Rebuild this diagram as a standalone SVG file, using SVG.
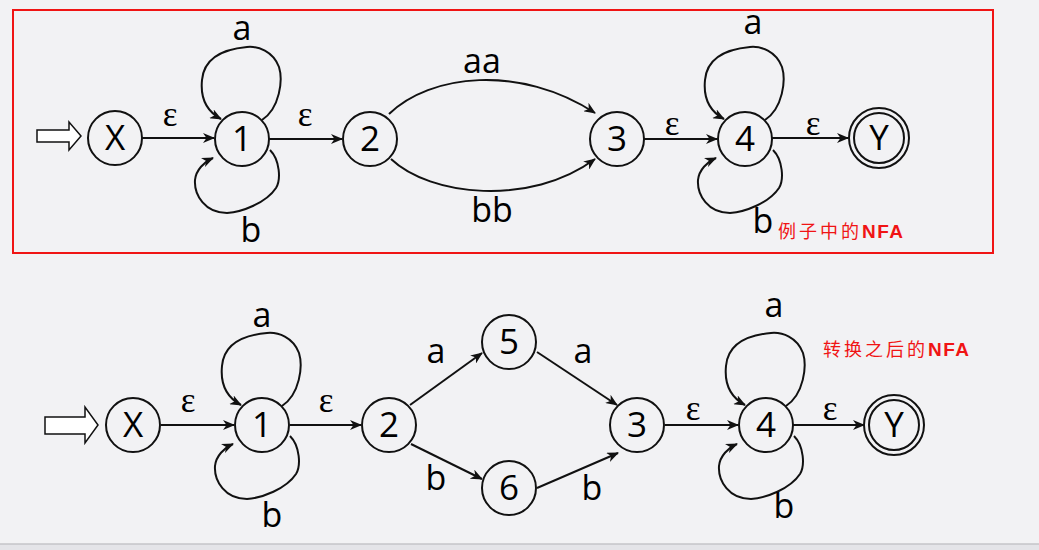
<svg xmlns="http://www.w3.org/2000/svg" width="1039" height="550" viewBox="0 0 1039 550">
<style>
.bg{fill:#f2f2f4}
.st{fill:#f2f2f4;stroke:#111;stroke-width:2}
.ed{fill:none;stroke:#111;stroke-width:2}
.lb{font-family:"Open Sans","Noto Sans",sans-serif;font-size:34px;fill:#000;text-anchor:middle}
.nl{font-family:"Open Sans","Noto Sans",sans-serif;font-size:35px;fill:#000;text-anchor:middle}
.ep{font-family:"Liberation Serif","DejaVu Serif",serif;font-size:35px;fill:#000;text-anchor:middle}
.rd{font-family:"Noto Sans CJK SC",sans-serif;font-size:18px;fill:#f01414;letter-spacing:3px}
.rb{font-family:"Liberation Sans",sans-serif;font-weight:bold;font-size:19px;letter-spacing:1.5px}
</style>
<defs>
<marker id="ar" viewBox="0 0 12 10" refX="11" refY="5" markerWidth="12" markerHeight="10" markerUnits="userSpaceOnUse" orient="auto">
<path d="M0,0 L12,5 L0,10 L3.5,5 z" fill="#111"/>
</marker>
<path id="loopT" d="M20,-19 C38,-31 41,-59 37,-72 C31,-88 16,-93 5,-92 C-17,-90 -38,-82 -40,-59 C-42,-39 -34,-27 -21,-20"/>
<path id="loopB" d="M28,11 C38,21 39,41 34,49 C24,64 0,73 -15,74 C-37,74 -48,56 -47,41 C-46,31 -38,23 -29,19"/>
</defs>
<rect class="bg" x="0" y="0" width="1039" height="550"/>
<rect x="0" y="544" width="1039" height="6" fill="#e4e4e8"/>
<line x1="0" y1="544" x2="1039" y2="544" stroke="#c4c4c8" stroke-width="1.5"/>
<rect x="13" y="10" width="980" height="243" fill="none" stroke="#f01414" stroke-width="2"/>

<g id="connectors">
<polygon points="37,130 69,130 69,122 81,136 69,150 69,142 37,142" fill="#fff" stroke="#111" stroke-width="1.5"/>
<line class="ed" x1="142" y1="138" x2="214" y2="138" marker-end="url(#ar)"/>
<line class="ed" x1="269" y1="139" x2="342" y2="139" marker-end="url(#ar)"/>
<use href="#loopT" class="ed" transform="translate(242,139)" marker-end="url(#ar)"/>
<use href="#loopB" class="ed" transform="translate(242,139)" marker-end="url(#ar)"/>
<path class="ed" d="M389,114 C430,74 520,64 595,113" marker-end="url(#ar)"/>
<path class="ed" d="M391,159 C430,196 530,207 595,159" marker-end="url(#ar)"/>
<line class="ed" x1="644" y1="139" x2="717" y2="139" marker-end="url(#ar)"/>
<use href="#loopT" class="ed" transform="translate(745,139)" marker-end="url(#ar)"/>
<use href="#loopB" class="ed" transform="translate(745,139)" marker-end="url(#ar)"/>
<line class="ed" x1="772" y1="138" x2="848" y2="138" marker-end="url(#ar)"/>
<polygon points="45,417 85,417 85,407 98,425 85,443 85,434 45,434" fill="#fff" stroke="#111" stroke-width="1.5"/>
<line class="ed" x1="161" y1="425" x2="234" y2="425" marker-end="url(#ar)"/>
<line class="ed" x1="290" y1="425" x2="361" y2="425" marker-end="url(#ar)"/>
<use href="#loopT" class="ed" transform="translate(262,425)" marker-end="url(#ar)"/>
<use href="#loopB" class="ed" transform="translate(262,425)" marker-end="url(#ar)"/>
<line class="ed" x1="410" y1="405" x2="482" y2="353" marker-end="url(#ar)"/>
<line class="ed" x1="411" y1="444" x2="482" y2="479" marker-end="url(#ar)"/>
<line class="ed" x1="537" y1="352" x2="617" y2="405" marker-end="url(#ar)"/>
<line class="ed" x1="537" y1="488" x2="618" y2="453" marker-end="url(#ar)"/>
<line class="ed" x1="665" y1="425" x2="738" y2="425" marker-end="url(#ar)"/>
<use href="#loopT" class="ed" transform="translate(766,425)" marker-end="url(#ar)"/>
<use href="#loopB" class="ed" transform="translate(766,425)" marker-end="url(#ar)"/>
<line class="ed" x1="793" y1="425" x2="864" y2="425" marker-end="url(#ar)"/>

<text class="ep" x="170" y="126">ε</text>
<text class="ep" x="305" y="126">ε</text>
<text class="lb" x="242" y="40">a</text>
<text class="lb" x="251" y="242">b</text>
<text class="lb" x="482" y="73">aa</text>
<text class="lb" x="492" y="222">bb</text>
<text class="ep" x="672" y="135">ε</text>
<text class="ep" x="813" y="135">ε</text>
<text class="lb" x="753" y="34">a</text>
<text class="lb" x="763" y="233">b</text>

<text class="ep" x="188" y="412">ε</text>
<text class="ep" x="326" y="412">ε</text>
<text class="lb" x="262" y="327">a</text>
<text class="lb" x="272" y="527">b</text>
<text class="lb" x="436" y="363">a</text>
<text class="lb" x="436" y="490">b</text>
<text class="lb" x="583" y="363">a</text>
<text class="lb" x="592" y="500">b</text>
<text class="ep" x="693" y="420">ε</text>
<text class="ep" x="830" y="420">ε</text>
<text class="lb" x="774" y="317">a</text>
<text class="lb" x="784" y="518">b</text>
</g>

<g id="n-top-X"><circle class="st" cx="115" cy="138" r="27"/><text class="nl" x="115" y="150">X</text></g>
<g id="n-top-1"><circle class="st" cx="242" cy="139" r="27"/><text class="nl" x="242" y="151">1</text></g>
<g id="n-top-2"><circle class="st" cx="370" cy="139" r="27"/><text class="nl" x="370" y="151">2</text></g>
<g id="n-top-3"><circle class="st" cx="617" cy="139" r="27"/><text class="nl" x="617" y="151">3</text></g>
<g id="n-top-4"><circle class="st" cx="745" cy="139" r="27"/><text class="nl" x="745" y="151">4</text></g>
<g id="n-top-Y"><circle class="st" cx="879" cy="138" r="30"/><circle class="st" cx="879" cy="138" r="25"/><text class="nl" x="879" y="150">Y</text></g>

<g id="n-bot-X"><circle class="st" cx="133" cy="425" r="27"/><text class="nl" x="133" y="437">X</text></g>
<g id="n-bot-1"><circle class="st" cx="262" cy="425" r="27"/><text class="nl" x="262" y="437">1</text></g>
<g id="n-bot-2"><circle class="st" cx="389" cy="425" r="27"/><text class="nl" x="389" y="437">2</text></g>
<g id="n-bot-5"><circle class="st" cx="509" cy="342" r="27"/><text class="nl" x="509" y="354">5</text></g>
<g id="n-bot-6"><circle class="st" cx="509" cy="488" r="27"/><text class="nl" x="509" y="500">6</text></g>
<g id="n-bot-3"><circle class="st" cx="637" cy="425" r="27"/><text class="nl" x="637" y="437">3</text></g>
<g id="n-bot-4"><circle class="st" cx="766" cy="425" r="27"/><text class="nl" x="766" y="437">4</text></g>
<g id="n-bot-Y"><circle class="st" cx="894" cy="425" r="30"/><circle class="st" cx="894" cy="425" r="25"/><text class="nl" x="894" y="437">Y</text></g>

<text class="rd" x="778" y="238">例子中的<tspan class="rb">NFA</tspan></text>
<text class="rd" x="823" y="356">转换之后的<tspan class="rb">NFA</tspan></text>
</svg>
